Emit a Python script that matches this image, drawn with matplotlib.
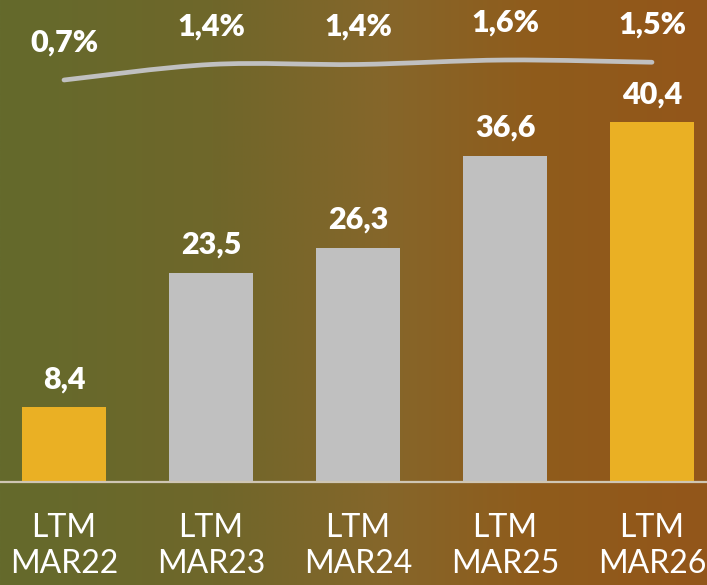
import matplotlib.pyplot as plt
import numpy as np
from matplotlib.colors import LinearSegmentedColormap
from matplotlib.path import Path
from matplotlib.patches import PathPatch

plt.rcParams['font.family'] = ['Lato', 'DejaVu Sans']

periods = ["LTM\nMAR22", "LTM\nMAR23", "LTM\nMAR24", "LTM\nMAR25", "LTM\nMAR26"]
values = [8.4, 23.5, 26.3, 36.6, 40.4]
value_labels = ["8,4", "23,5", "26,3", "36,6", "40,4"]
margins = [0.7, 1.4, 1.4, 1.6, 1.5]
margin_labels = ["0,7%", "1,4%", "1,4%", "1,6%", "1,5%"]

c_yellow = "#EAB024"
c_grey = "#C0C0C0"
bar_colors = [c_yellow, c_grey, c_grey, c_grey, c_yellow]

fig = plt.figure(figsize=(7.07, 5.85), dpi=100)

# background gradient
bg = fig.add_axes([0, 0, 1, 1], zorder=0)
bg_cmap = LinearSegmentedColormap.from_list(
    "bg", [(0.0, "#646a2c"), (0.3, "#6f672a"), (0.55, "#86662a"),
           (0.75, "#8f5c1c"), (1.0, "#93561a")])
grad = np.tile(np.linspace(0, 1, 256), (2, 1))
bg.imshow(grad, aspect="auto", cmap=bg_cmap, extent=[0, 1, 0, 1])
bg.set_axis_off()

base = (585 - 482) / 585
ax = fig.add_axes([0, base, 1, 1 - base], zorder=1)
ax.patch.set_alpha(0)
x = np.arange(len(values))
ax.bar(x, values, width=0.571, color=bar_colors)
ax.set_xlim(-64 / 147, 643 / 147)
ax.set_ylim(0, 482 / 8.91)

for xi, v, lab in zip(x, values, value_labels):
    ax.annotate(lab, (xi, v), xytext=(0, 10), textcoords="offset points",
                ha="center", va="bottom", color="white", fontsize=22,
                fontweight="heavy")

ax.set_xticks(x)
ax.set_xticklabels(periods, color="white", fontsize=23, linespacing=1.25)
ax.tick_params(axis="x", length=0, pad=22)
ax.set_yticks([])
for s in ["top", "right", "left"]:
    ax.spines[s].set_visible(False)
ax.spines["bottom"].set_color("#cfc6b4")
ax.spines["bottom"].set_linewidth(1.6)

# margin line on its own scale, drawn as a smooth curve through the points
ax2 = ax.twinx()
ax2.set_ylim(0.7 - 402 / 22.2, 0.7 + 80 / 22.2)
pts = np.column_stack([x, margins]).astype(float)
verts = [pts[0]]
codes = [Path.MOVETO]
for i in range(len(pts) - 1):
    p0 = pts[max(i - 1, 0)]
    p1, p2 = pts[i], pts[i + 1]
    p3 = pts[min(i + 2, len(pts) - 1)]
    verts += [p1 + (p2 - p0) / 6, p2 - (p3 - p1) / 6, p2]
    codes += [Path.CURVE4] * 3
ax2.add_patch(PathPatch(Path(verts, codes), fill=False, edgecolor=c_grey,
                        lw=3.4, capstyle="round", joinstyle="round"))
for xi, m, lab in zip(x, margins, margin_labels):
    ax2.annotate(lab, (xi, m), xytext=(0, 17), textcoords="offset points",
                 ha="center", va="bottom", color="white", fontsize=22,
                 fontweight="heavy")
ax2.set_axis_off()

plt.savefig("out.png", dpi=100)
